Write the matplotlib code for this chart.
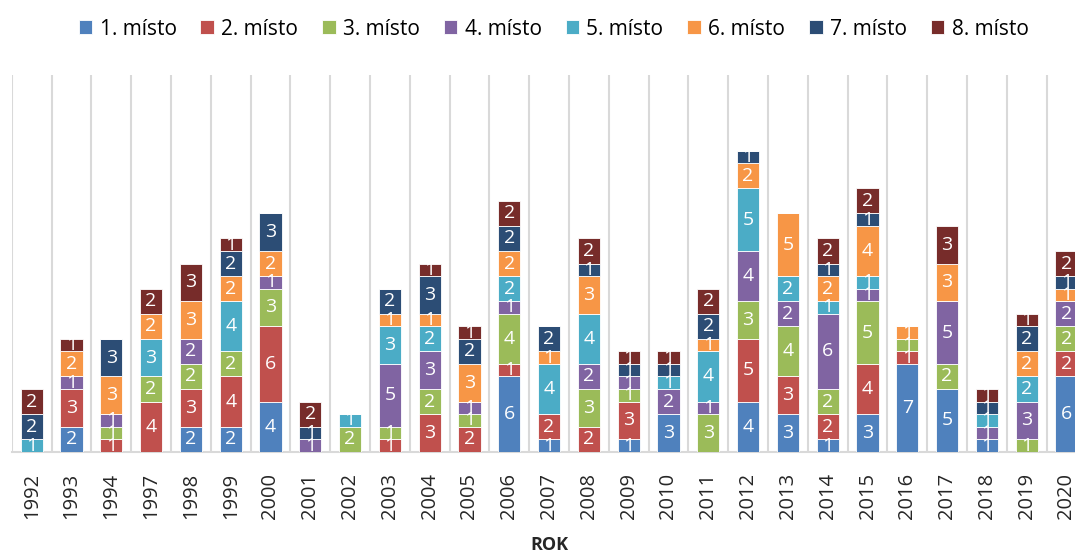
import numpy as np
import matplotlib.pyplot as plt

plt.rcParams['font.family'] = ['Open Sans', 'DejaVu Sans']

years = ["1992", "1993", "1994", "1997", "1998", "1999", "2000", "2001", "2002",
         "2003", "2004", "2005", "2006", "2007", "2008", "2009", "2010", "2011",
         "2012", "2013", "2014", "2015", "2016", "2017", "2018", "2019", "2020"]

place_names = ["1. místo", "2. místo", "3. místo", "4. místo",
               "5. místo", "6. místo", "7. místo", "8. místo"]

# counts per place, one value per year
place1 = [0, 2, 0, 0, 2, 2, 4, 0, 0, 0, 0, 0, 6, 1, 0, 1, 3, 0, 4, 3, 1, 3, 7, 5, 1, 0, 6]
place2 = [0, 3, 1, 4, 3, 4, 6, 0, 0, 1, 3, 2, 1, 2, 2, 3, 0, 0, 5, 3, 2, 4, 1, 0, 0, 0, 2]
place3 = [0, 0, 1, 2, 2, 2, 3, 0, 2, 1, 2, 1, 4, 0, 3, 1, 0, 3, 3, 4, 2, 5, 1, 2, 0, 1, 2]
place4 = [0, 1, 1, 0, 2, 0, 1, 1, 0, 5, 3, 1, 1, 0, 2, 1, 2, 1, 4, 2, 6, 1, 0, 5, 1, 3, 2]
place5 = [1, 0, 0, 3, 0, 4, 0, 0, 1, 3, 2, 0, 2, 4, 4, 0, 1, 4, 5, 2, 1, 1, 0, 0, 1, 2, 0]
place6 = [0, 2, 3, 2, 3, 2, 2, 0, 0, 1, 1, 3, 2, 1, 3, 0, 0, 1, 2, 5, 2, 4, 1, 3, 0, 2, 1]
place7 = [2, 0, 3, 0, 0, 2, 3, 1, 0, 2, 3, 2, 2, 2, 1, 1, 1, 2, 1, 0, 1, 1, 0, 0, 1, 2, 1]
place8 = [2, 1, 0, 2, 3, 1, 0, 2, 0, 0, 1, 1, 2, 0, 2, 1, 1, 2, 0, 0, 2, 2, 0, 3, 1, 1, 2]

series = [place1, place2, place3, place4, place5, place6, place7, place8]
colors = ["#4F81BD", "#C0504D", "#9BBB59", "#8064A2",
          "#4BACC6", "#F79646", "#2C4D75", "#772C2A"]

fig = plt.figure(figsize=(10.75, 5.53), dpi=100)
ax = fig.add_axes([11.8 / 1075, 0.183, 27 * 39.8 / 1075, 0.681])

x = np.arange(len(years))
bottom = np.zeros(len(years))
for name, vals, col in zip(place_names, series, colors):
    vals = np.array(vals)
    bars = ax.bar(x, vals, 0.56, bottom=bottom, color=col, label=name,
                  edgecolor="white", linewidth=0.6, zorder=3)
    labels = [str(v) if v > 0 else "" for v in vals]
    ax.bar_label(bars, labels=labels, label_type="center", color="white",
                 fontsize=14, zorder=4)
    bottom += vals

ax.set_xlim(-0.5, len(years) - 0.5)
ax.set_ylim(0, 30)
ax.set_yticks([])

# vertical gridlines between categories
ax.set_xticks(np.arange(-0.5, len(years)), minor=True)
ax.grid(True, which="minor", axis="x", color="#D9D9D9", linewidth=1.5, zorder=0)
ax.set_xticks(x)
ax.set_xticklabels(years, rotation=90, fontsize=14.5, color="#262626")
ax.tick_params(axis="x", which="both", length=0, pad=15)

for side in ["top", "right", "left"]:
    ax.spines[side].set_visible(False)
ax.spines["bottom"].set_color("#D9D9D9")
ax.spines["bottom"].set_linewidth(1.5)

ax.set_xlabel("ROK", fontsize=13, fontweight="bold", color="#262626", labelpad=12)

fig.legend(loc="upper center", bbox_to_anchor=(0.515, 1.0), ncol=8, frameon=False,
           fontsize=15, handlelength=0.65, handleheight=0.65, handletextpad=0.35,
           columnspacing=1.15)

fig.savefig("out.png", dpi=100)
